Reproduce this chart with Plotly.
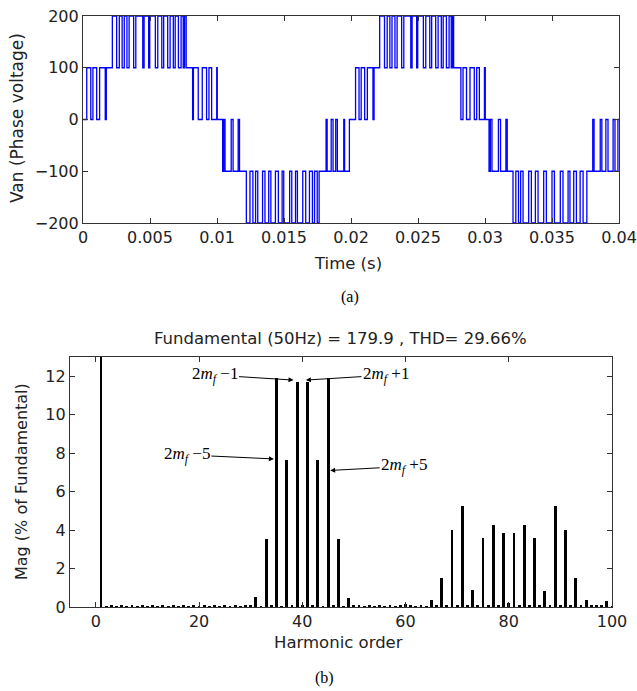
import plotly.graph_objects as go

# ---------------- data: phase voltage waveform (switching instants in ms, level after switch) ----------------
switch_times_ms = [
    0.00, 0.28, 0.58, 0.74, 1.02, 1.24, 1.66, 1.74, 2.19,
    2.51, 2.71, 2.92, 3.08, 3.28, 3.44, 3.78, 3.94, 4.46, 4.56, 4.90, 4.98,
    5.40, 5.58, 5.88, 6.02, 6.32, 6.50, 6.74, 6.88, 7.12, 7.32, 7.48, 7.58, 7.70,
    8.18, 8.24, 8.60, 8.90, 9.22, 9.40, 9.60, 9.98, 10.02,
    10.42, 10.50, 10.60, 11.06, 11.20, 11.58, 11.68, 12.19,
    12.46, 12.68, 12.88, 13.04, 13.40, 13.58, 13.86, 14.02, 14.36, 14.58, 14.86, 14.98,
    15.42, 15.58, 15.86, 16.00, 16.40, 16.62, 16.90, 17.12, 17.28, 17.48, 17.62,
    18.14, 18.22, 18.52, 18.66, 18.86, 18.98, 19.46, 19.52, 19.88,
    20.34, 20.60, 20.76, 21.02, 21.22, 21.64, 21.72, 22.14,
    22.50, 22.70, 22.90, 23.06, 23.28, 23.44, 23.78, 23.94, 24.46, 24.56, 24.90, 24.98,
    25.40, 25.58, 25.88, 26.02, 26.32, 26.50, 26.74, 26.88, 27.12, 27.32, 27.48, 27.58, 27.66,
    28.20, 28.36, 28.62, 28.88, 29.20, 29.38, 29.58, 29.96, 30.02,
    30.30, 30.40, 30.52, 31.00, 31.16, 31.56, 31.66, 32.09,
    32.30, 32.50, 32.66, 32.84, 33.26, 33.46, 33.76, 33.96, 34.38, 34.58, 35.00, 35.18,
    35.62, 35.82, 36.20, 36.34, 36.62, 36.82, 37.10, 37.32, 37.60,
    38.04, 38.14, 38.60, 38.72, 39.02, 39.18, 39.56, 39.70, 39.92, 40.00,
]
switch_levels = [
    0, 100, 0, 100, 0, 100, 0, 100, 200,
    100, 200, 100, 200, 100, 200, 100, 200, 100, 200, 100, 200,
    100, 200, 100, 200, 100, 200, 100, 200, 100, 200, 100, 200, 100,
    0, 100, 0, 100, 0, 100, 0, 100, 0,
    -100, 0, -100, 0, -100, 0, -100, -200,
    -100, -200, -100, -200, -100, -200, -100, -200, -100, -200, -100, -200,
    -100, -200, -100, -200, -100, -200, -100, -200, -100, -200, -100,
    0, -100, 0, -100, 0, -100, 0, -100, 0,
    100, 0, 100, 0, 100, 0, 100, 200,
    100, 200, 100, 200, 100, 200, 100, 200, 100, 200, 100, 200,
    100, 200, 100, 200, 100, 200, 100, 200, 100, 200, 100, 200, 100,
    0, 100, 0, 100, 0, 100, 0, 100, 0,
    -100, 0, -100, 0, -100, 0, -100, -200,
    -100, -200, -100, -200, -100, -200, -100, -200, -100, -200, -100, -200,
    -100, -200, -100, -200, -100, -200, -100, -200, -100,
    0, -100, 0, -100, 0, -100, 0, -100, 0, 0,
]

# ---------------- data: harmonic spectrum (% of fundamental), orders 0..100 ----------------
harmonic_order = list(range(0, 101))
harmonic_mag = [
    0.00, 100.0, 0.05, 0.08, 0.05, 0.07, 0.04, 0.06, 0.05, 0.07,
    0.04, 0.06, 0.05, 0.08, 0.04, 0.06, 0.05, 0.07, 0.04, 0.06,
    0.05, 0.08, 0.04, 0.06, 0.05, 0.07, 0.04, 0.06, 0.05, 0.09,
    0.06, 0.52, 0.05, 3.52, 0.06, 11.93, 0.05, 7.62, 0.06, 11.70,
    0.08, 11.68, 0.06, 7.62, 0.05, 11.90, 0.06, 3.55, 0.05, 0.48,
    0.06, 0.07, 0.05, 0.06, 0.04, 0.07, 0.05, 0.06, 0.04, 0.08,
    0.15, 0.06, 0.05, 0.07, 0.05, 0.38, 0.06, 1.50, 0.07, 4.02,
    0.08, 5.27, 0.06, 0.90, 0.07, 3.60, 0.06, 4.28, 0.08, 3.86,
    0.20, 3.86, 0.08, 4.28, 0.06, 3.60, 0.07, 0.85, 0.06, 5.27,
    0.08, 4.00, 0.06, 1.50, 0.07, 0.36, 0.06, 0.08, 0.06, 0.30,
    0.05,
]

time_ticks = [0, 0.005, 0.01, 0.015, 0.02, 0.025, 0.03, 0.035, 0.04]
time_tick_text = ["0", "0.005", "0.01", "0.015", "0.02", "0.025", "0.03", "0.035", "0.04"]
volt_ticks = [-200, -100, 0, 100, 200]
order_ticks = [0, 20, 40, 60, 80, 100]
mag_ticks = [0, 2, 4, 6, 8, 10, 12]

title_b = "Fundamental (50Hz) = 179.9 , THD= 29.66%"

# ---------------- figure ----------------
W, H = 637, 691
fig = go.Figure()

t_s = [t / 1000.0 for t in switch_times_ms]
fig.add_trace(go.Scatter(
    x=t_s, y=switch_levels, mode="lines", line_shape="hv",
    line=dict(color="#0000ff", width=1.3), xaxis="x", yaxis="y",
    showlegend=False, hoverinfo="skip",
))

fig.add_trace(go.Bar(
    x=harmonic_order, y=harmonic_mag, width=0.55,
    marker=dict(color="#000000", line=dict(width=0)),
    xaxis="x2", yaxis="y2", showlegend=False, hoverinfo="skip",
))

tick_font = dict(family="DejaVu Sans", size=16, color="#222222")
label_font = dict(family="DejaVu Sans", size=16.5, color="#222222")
serif_font = dict(family="Liberation Serif", size=16, color="#000000")

axis_common = dict(
    showline=True, linecolor="#333333", linewidth=1.2, mirror="allticks",
    ticks="inside", ticklen=5, tickwidth=1, tickcolor="#333333",
    showgrid=False, zeroline=False, tickfont=tick_font, automargin=False,
)

def px2x(px):
    return px / W

def px2y(py):
    return 1 - py / H

fig.update_layout(
    width=W, height=H,
    margin=dict(l=0, r=0, t=0, b=0, pad=0, autoexpand=False),
    paper_bgcolor="white", plot_bgcolor="white",
    bargap=0,
    xaxis=dict(domain=[px2x(83), px2x(619)], range=[0, 0.04], tickvals=time_ticks,
               ticktext=time_tick_text, anchor="y", **axis_common),
    yaxis=dict(domain=[px2y(223), px2y(16)], range=[-200, 200], tickvals=volt_ticks,
               anchor="x", **axis_common),
    xaxis2=dict(domain=[px2x(70), px2x(612)], range=[-5, 100], tickvals=order_ticks,
                anchor="y2", **axis_common),
    yaxis2=dict(domain=[px2y(607), px2y(357)], range=[0, 13], tickvals=mag_ticks,
                anchor="x2", **axis_common),
)

ann = []
# axis titles and captions
ann.append(dict(text="Time (s)", x=px2x(348), y=px2y(264), xref="paper", yref="paper",
                showarrow=False, font=label_font, xanchor="center", yanchor="middle"))
ann.append(dict(text="Van (Phase voltage)", x=px2x(17), y=px2y(118), xref="paper", yref="paper",
                showarrow=False, font=dict(family="DejaVu Sans", size=17, color="#222222"),
                textangle=-90, xanchor="center", yanchor="middle"))
ann.append(dict(text="(a)", x=px2x(350), y=px2y(297), xref="paper", yref="paper",
                showarrow=False, font=serif_font, xanchor="center", yanchor="middle"))
ann.append(dict(text=title_b, x=px2x(340), y=px2y(338), xref="paper", yref="paper",
                showarrow=False, font=dict(family="DejaVu Sans", size=16.5, color="#222222"),
                xanchor="center", yanchor="middle"))
ann.append(dict(text="Mag (% of Fundamental)", x=px2x(22), y=px2y(482), xref="paper", yref="paper",
                showarrow=False, font=dict(family="DejaVu Sans", size=16, color="#222222"),
                textangle=-90, xanchor="center", yanchor="middle"))
ann.append(dict(text="Harmonic order", x=px2x(338), y=px2y(642), xref="paper", yref="paper",
                showarrow=False, font=label_font, xanchor="center", yanchor="middle"))
ann.append(dict(text="(b)", x=px2x(324), y=px2y(678), xref="paper", yref="paper",
                showarrow=False, font=serif_font, xanchor="center", yanchor="middle"))

# sideband labels with arrows
side_font = dict(family="Liberation Serif", size=17, color="#000000")
sidebands = [
    ("2<i>m</i><sub><i>f</i></sub> \u22121", 38.3, 11.8, -79, -5),
    ("2<i>m</i><sub><i>f</i></sub> +1", 40.7, 11.8, 80, -5),
    ("2<i>m</i><sub><i>f</i></sub> \u22125", 34.5, 7.7, -87, -4),
    ("2<i>m</i><sub><i>f</i></sub> +5", 45.4, 7.1, 74, -4),
]
for txt, xt, yt, axo, ayo in sidebands:
    ann.append(dict(text=txt, x=xt, y=yt, xref="x2", yref="y2", ax=axo, ay=ayo,
                    showarrow=True, arrowhead=2, arrowsize=1, arrowwidth=1,
                    arrowcolor="#000000", font=side_font))

fig.update_layout(annotations=ann)

fig.write_html(
    "out.html",
    config={"displayModeBar": False},
    post_script="document.body.style.margin='0';document.body.style.padding='0';"
                "document.documentElement.style.overflow='hidden';",
)
